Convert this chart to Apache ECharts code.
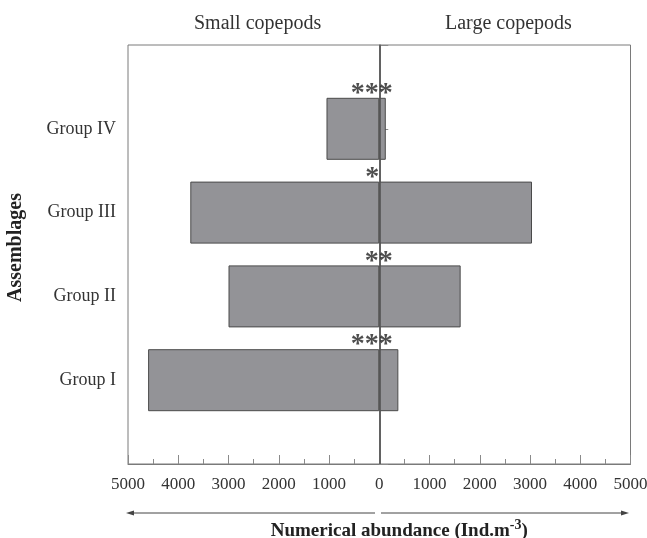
<!DOCTYPE html>
<html>
<head>
<meta charset="utf-8">
<script src="https://cdn.jsdelivr.net/npm/echarts@6/dist/echarts.min.js"></script>
<style>
html,body{margin:0;padding:0;background:#fff;}
#chart{width:647px;height:538px;}
</style>
</head>
<body>
<div id="chart"></div>
<script>
// ---- data ----
var categories = ['Group I', 'Group II', 'Group III', 'Group IV'];
var smallCopepods = [4600, 3000, 3760, 1050];   // plotted to the left
var largeCopepods = [380, 1620, 3040, 130];     // plotted to the right
var significance = ['***', '**', '*', '***'];
var xTicks = [-5000, -4000, -3000, -2000, -1000, 0, 1000, 2000, 3000, 4000, 5000];
var sideLabels = ['Small copepods', 'Large copepods'];
var yTitle = 'Assemblages';
var xTitle = 'Numerical abundance (Ind.m';
var xTitleSup = '-3';

// ---- build ----
var yCats = [''].concat(categories).concat(['']);
var smallData = [null].concat(smallCopepods.map(function (v) { return -v; })).concat([null]);
var largeData = [null].concat(largeCopepods).concat([null]);
var starOffsets = { 3: -7.5, 2: -0.5, 1: -7 };
var starData = categories.map(function (c, i) {
  return {
    value: [0, c],
    label: {
      formatter: significance[i],
      offset: [starOffsets[significance[i].length], -35]
    }
  };
});

var serif = '"Liberation Serif", "Times New Roman", serif';
var chart = echarts.init(document.getElementById('chart'), null, { renderer: 'canvas' });
chart.setOption({
  animation: false,
  backgroundColor: '#ffffff',
  grid: {
    left: 128, right: 16.5, top: 45, bottom: 74,
    containLabel: false, outerBoundsMode: 'none',
    show: true, borderColor: '#7a7a7a', borderWidth: 1
  },
  xAxis: {
    type: 'value',
    min: xTicks[0], max: xTicks[xTicks.length - 1], interval: 1000,
    axisLine: { show: true, lineStyle: { color: '#7a7a7a', width: 1 } },
    axisTick: { show: true, inside: true, length: 9, lineStyle: { color: '#8a8a8a' } },
    minorTick: { show: true, splitNumber: 2, length: 5, lineStyle: { color: '#8a8a8a' } },
    splitLine: { show: false },
    axisLabel: {
      margin: 12, fontSize: 17, fontFamily: serif, color: '#333',
      formatter: function (v) { return String(Math.abs(v)); }
    },
    name: xTitle + '{sup|' + xTitleSup + '})',
    nameLocation: 'middle',
    nameGap: 54,
    nameTextStyle: {
      fontFamily: serif, fontSize: 19, fontWeight: 'bold', color: '#222',
      padding: [0, 0, 0, 40],
      rich: {
        sup: { fontFamily: serif, fontSize: 14, fontWeight: 'bold', color: '#222', padding: [0, 0, 12, 0] }
      }
    }
  },
  yAxis: {
    type: 'category',
    data: yCats,
    boundaryGap: false,
    axisLine: { show: true, lineStyle: { color: '#666', width: 1.5 } },
    axisTick: { show: true, inside: true, length: 9, interval: 0, lineStyle: { color: '#8a8a8a' } },
    axisLabel: { margin: 12, fontSize: 18, fontFamily: serif, color: '#333', interval: 0 },
    splitLine: { show: false },
    name: yTitle,
    nameLocation: 'middle',
    nameRotate: 90,
    nameGap: 102,
    nameTextStyle: { fontFamily: serif, fontSize: 20, fontWeight: 'bold', color: '#222', padding: [0, 0, 0, 14] }
  },
  series: [
    {
      name: sideLabels[0], type: 'bar', data: smallData,
      barWidth: 62, barGap: '-100%',
      itemStyle: { color: '#939397', borderColor: '#4a4a4a', borderWidth: 1 },
      silent: true
    },
    {
      name: sideLabels[1], type: 'bar', data: largeData,
      barWidth: 62, barGap: '-100%',
      itemStyle: { color: '#939397', borderColor: '#4a4a4a', borderWidth: 1 },
      silent: true,
      markLine: {
        silent: true, symbol: ['none', 'none'],
        label: { show: false },
        lineStyle: { color: '#555', width: 1.5, type: 'solid' },
        data: [{ xAxis: 0 }]
      }
    },
    {
      type: 'scatter', data: starData, symbolSize: 0, silent: true, z: 10,
      label: {
        show: true, position: 'inside',
        fontFamily: serif, fontWeight: 'bold', fontSize: 28, color: '#222'
      }
    }
  ],
  graphic: [
    { type: 'text', left: 194, top: 14, style: { text: sideLabels[0], font: '20px ' + serif, fill: '#333' } },
    { type: 'text', left: 445, top: 14, style: { text: sideLabels[1], font: '20px ' + serif, fill: '#333' } },
    { type: 'line', shape: { x1: 129, y1: 513, x2: 375, y2: 513 }, style: { stroke: '#444', lineWidth: 1 } },
    { type: 'polygon', shape: { points: [[126, 513], [134, 510.5], [134, 515.5]] }, style: { fill: '#444' } },
    { type: 'line', shape: { x1: 381, y1: 513, x2: 625, y2: 513 }, style: { stroke: '#444', lineWidth: 1 } },
    { type: 'polygon', shape: { points: [[629, 513], [621, 510.5], [621, 515.5]] }, style: { fill: '#444' } }
  ]
});
</script>
</body>
</html>
